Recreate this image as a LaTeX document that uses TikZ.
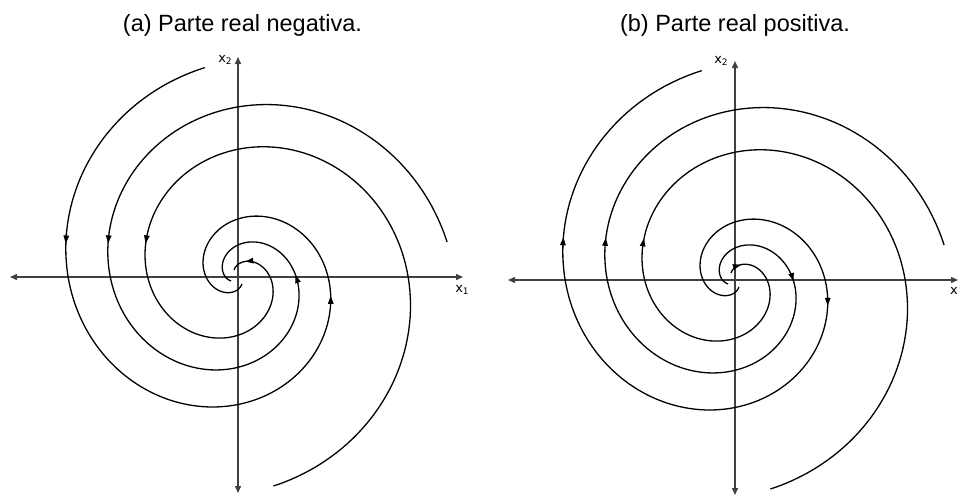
\documentclass[tikz,border=0pt]{standalone}
\usepackage{fontspec}
\setmainfont{Liberation Sans}
\newfontfamily\labfont{DejaVu Sans}
\usetikzlibrary{arrows.meta}
\newcommand\flowarrow[5]{\draw[flow] ({#1+rr(#4)*cos(#3+#4)},{#2-rr(#4)*sin(#3+#4)}) -- ({#1+rr(#5)*cos(#3+#5)},{#2-rr(#5)*sin(#3+#5)});}
\newcommand\spiraltraj[3]{\draw[traj] plot[domain=0:560, samples=260] ({#1+rr(\x)*cos(#3+\x)}, {#2-rr(\x)*sin(#3+\x)});}
\newcommand\sublab[2]{#1\raisebox{-0.3ex}{\fontsize{9}{10}\selectfont #2}}
\begin{document}
\begin{tikzpicture}[x=1pt,y=-1pt,
  declare function={rr(\d)=212*exp(1.66*ln(1-\d/648));},
  axis/.style={line width=1.4pt, draw=black!75, {Triangle[length=7pt,width=6pt]}-{Triangle[length=7pt,width=6pt]}},
  traj/.style={line width=1.3pt, black},
  flow/.style={line width=1.3pt, black, -{Triangle[length=8pt,width=5.5pt]}},
  ttl/.style={font=\fontsize{23.5}{28}\selectfont, anchor=base, inner sep=0pt},
  lab/.style={font=\labfont\fontsize{13}{15}\selectfont, inner sep=0pt}]
\useasboundingbox (0,0) rectangle (961,496);

% ---------- panel (a) ----------
\node[ttl] (ta) at (242.5,31) {(a) Parte real negativa.};
\coordinate (aL) at (10,277);
\coordinate (aR) at (463,277);
\coordinate (aT) at (238,57);
\coordinate (aB) at (238,493);
\draw[axis] (aL) -- (aR);
\draw[axis] (aB) -- (aT);
\node[lab] (ax2) at (225,60) {\sublab{x}{2}};
\node[lab] (ax1) at (462,290) {\sublab{x}{1}};

\spiraltraj{238}{277}{99}
\spiraltraj{238}{277}{9.5}
\spiraltraj{238}{277}{279.6}

\flowarrow{238}{277}{99}{67}{70}
\flowarrow{238}{277}{9.5}{153}{156}
\flowarrow{238}{277}{279.6}{237.4}{240.4}
\flowarrow{238}{277}{99}{246.5}{249.5}
\flowarrow{238}{277}{9.5}{349.5}{352.5}
\flowarrow{238}{277}{279.6}{500}{505.4}

% ---------- panel (b) ----------
\node[ttl] (tb) at (735,31) {(b) Parte real positiva.};
\coordinate (bL) at (508,280);
\coordinate (bR) at (958,280);
\coordinate (bT) at (735,61);
\coordinate (bB) at (735,495);
\draw[axis] (bL) -- (bR);
\draw[axis] (bB) -- (bT);
\node[lab] (bx2) at (721,61) {\sublab{x}{2}};
\node[lab] (bx1) at (954,291) {x};

\spiraltraj{735}{280}{99}
\spiraltraj{735}{280}{9.5}
\spiraltraj{735}{280}{279.6}

\flowarrow{735}{280}{99}{70}{67}
\flowarrow{735}{280}{9.5}{155.4}{152.4}
\flowarrow{735}{280}{279.6}{238.8}{235.8}
\flowarrow{735}{280}{99}{248.4}{245.4}
\flowarrow{735}{280}{9.5}{352.5}{349.5}
\flowarrow{735}{280}{279.6}{515}{509.4}
\end{tikzpicture}
\end{document}
